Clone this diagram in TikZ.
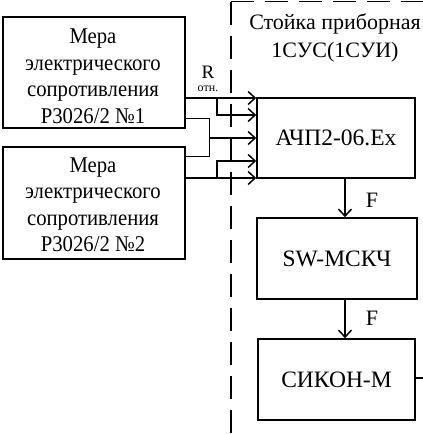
\documentclass[tikz,border=0pt]{standalone}
\usepackage{fontspec}
\setmainfont{Liberation Serif}
\newfontfamily\narrowserif[FakeStretch=0.92]{Liberation Serif}
\usetikzlibrary{arrows.meta,calc}
\begin{document}
\begin{tikzpicture}[x=1pt,y=-1pt,
  box/.style={draw,line width=1.6pt,inner sep=0pt},
  boxtext/.style={align=center,inner sep=0pt,font=\narrowserif\fontsize{22.5}{26.5}\selectfont},
  rtext/.style={inner sep=0pt,font=\fontsize{23.5}{27}\selectfont},
  wire/.style={line width=1.5pt},
  arr/.style={wire,-{Straight Barb[length=7pt,width=13pt,line width=1.5pt]}},
  frame/.style={line width=1.5pt,dash pattern=on 23pt off 11pt},
  lbl/.style={font=\fontsize{22}{28}\selectfont,inner sep=0pt,align=center}]
\useasboundingbox (0,0) rectangle (423,434);
% boxes
\node[box,minimum width=182pt,minimum height=111pt] (b1) at (94,72.5) {};
\node[boxtext] (b1t) at (93,76) {Мера\\электрического\\сопротивления\\Р3026/2 №1};
\node[box,minimum width=182pt,minimum height=112pt] (b2) at (94,203) {};
\node[boxtext] (b2t) at (93,204.5) {Мера\\электрического\\сопротивления\\Р3026/2 №2};
\node[box,rtext,minimum width=158pt,minimum height=80pt] (achp) at (336,138) {АЧП2-06.Ex};
\node[box,rtext,minimum width=160pt,minimum height=81pt] (sw) at (337,258.5) {SW-МСКЧ};
\node[box,rtext,minimum width=157pt,minimum height=81pt] (sikon) at (336.5,379.5) {СИКОН-М};
% frame
\coordinate (fc) at (231,1.5);
\coordinate (fb) at (231,434);
\coordinate (fr) at (423,1.5);
\draw[frame] (fc) -- (fb);
\draw[frame] (fc) -- (fr);
\node[lbl] (title) at (335,38) {Стойка приборная\\1СУС(1СУИ)};
% labels
\node[font=\fontsize{19}{20}\selectfont,inner sep=0pt] (r) at (208,72) {R};
\node[font=\fontsize{12}{13}\selectfont,inner sep=0pt] (rs) at (208,89) {отн.};
\node[lbl] (f1) at (372,200) {F};
\node[lbl] (f2) at (372,318) {F};
% wires
\coordinate (ja) at (217,98);
\coordinate (jb) at (209.5,138);
\coordinate (jc) at (217,178);
\draw[arr] (b1.east |- 0,98) -- (achp.west |- 0,98);
\draw[arr] (ja) -- (217,115) -- (achp.west |- 0,115);
\draw[wire] (b1.east |- 0,118.5) -| (209.5,156.5) -- (b2.east |- 0,156.5);
\draw[arr] (jb) -- (achp.west |- jb);
\draw[arr] (b2.east |- 0,178) -- (achp.west |- 0,178);
\draw[arr] (jc) -- (217,161) -- (achp.west |- 0,161);
\draw[arr] (achp.south -| 345,0) -- (sw.north -| 345,0);
\draw[arr] (sw.south -| 345,0) -- (sikon.north -| 345,0);
\coordinate (out) at (423,378);
\draw[wire] (sikon.east |- out) -- (out);
\end{tikzpicture}
\end{document}
